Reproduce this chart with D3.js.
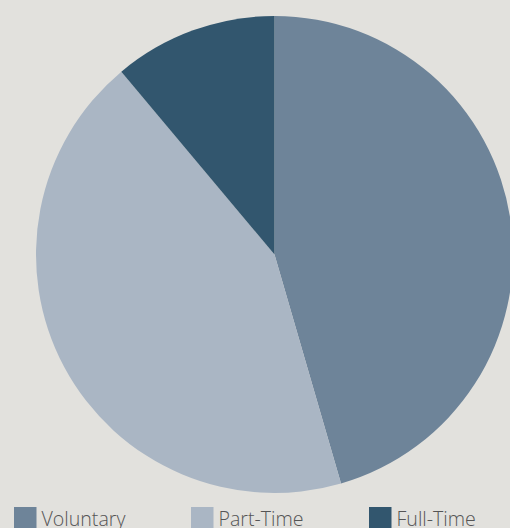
<!DOCTYPE html>
<html><head><meta charset="utf-8">
<script src="https://cdn.jsdelivr.net/npm/d3@7"></script>
<style>html,body{margin:0;padding:0;background:#e2e1dd;overflow:hidden}</style>
</head><body>
<svg id="c" width="510" height="528"></svg>
<script>
const categories = ["Voluntary", "Part-Time", "Full-Time"];
const values = [45.5, 43.4, 11.1];
const colors = ["#6e8499", "#aab6c4", "#32566e"];

const svg = d3.select("#c");
const cx = 274.5, cy = 254.5, r = 238.5;
const pie = d3.pie().sort(null).value(d => d.v);
const arc = d3.arc().innerRadius(0).outerRadius(r);
const data = categories.map((c, i) => ({c, v: values[i], col: colors[i]}));
const color = d3.scaleOrdinal().domain(categories).range(colors);

svg.append("g").attr("transform", `translate(${cx},${cy})`)
  .selectAll("path").data(pie(data)).join("path")
  .attr("d", arc).attr("fill", d => color(d.data.c));

const legX = [14, 191, 369];
const lg = svg.append("g").selectAll("g").data(categories).join("g")
  .attr("transform", (d, i) => `translate(${legX[i]},507)`);
lg.append("rect").attr("width", 22.5).attr("height", 22.5).attr("fill", d => color(d));
lg.append("text").attr("x", 27.5).attr("y", 19).text(d => d)
  .attr("font-family", "Open Sans").attr("font-weight", 300).attr("font-size", 19.6)
  .attr("fill", "#555");
</script>
</body></html>
